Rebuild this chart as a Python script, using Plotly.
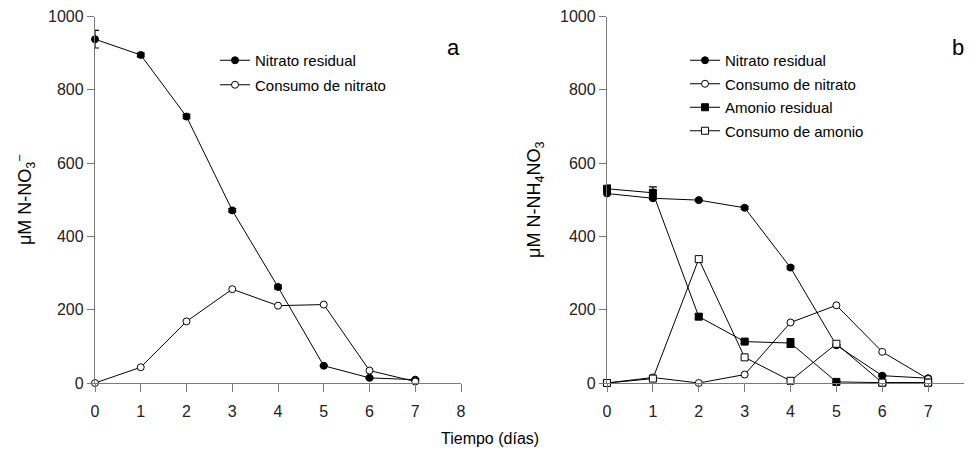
import plotly.graph_objects as go

dias = [0, 1, 2, 3, 4, 5, 6, 7]

# Panel a
a_nitrato_residual = [938, 895, 727, 471, 262, 47, 14, 9]
a_nitrato_residual_err = [24, 5, 6, 5, 5, 2, 2, 2]
a_consumo_nitrato = [0, 43, 168, 256, 211, 214, 34, 4]

# Panel b
b_nitrato_residual = [517, 504, 499, 478, 315, 103, 20, 13]
b_nitrato_residual_err = [3, 3, 3, 4, 4, 2, 2, 2]
b_consumo_nitrato = [0, 15, 0, 23, 165, 212, 85, 11]
b_amonio_residual = [530, 519, 181, 113, 109, 3, 1, 1]
b_amonio_residual_err = [10, 16, 6, 5, 12, 1, 1, 1]
b_consumo_amonio = [0, 12, 338, 70, 6, 107, 1, 1]

xticks = [0, 1, 2, 3, 4, 5, 6, 7, 8]
yticks = [0, 200, 400, 600, 800, 1000]

FONT = "Liberation Sans, Arial, sans-serif"
AX = "#7a7a7a"
W, H = 972, 451
OFF = 8  # page body margin

fig = go.Figure()

def add(x, y, name, symbol, xa, ya, legend, group, err=None, filled=True):
    fig.add_trace(go.Scatter(
        x=x, y=y, name=name, mode="lines+markers",
        xaxis=xa, yaxis=ya, legend=legend, legendgroup=group, cliponaxis=False,
        line=dict(color="black", width=1),
        marker=dict(symbol=symbol, size=7,
                    color="black" if filled else "white",
                    line=dict(color="black", width=1)),
        error_y=(dict(type="data", array=err, color="black", thickness=1.2, width=4)
                 if err is not None else None),
    ))

add(dias, a_nitrato_residual, "Nitrato residual", "circle", "x", "y", "legend", "a1", a_nitrato_residual_err)
add(dias, a_consumo_nitrato, "Consumo de nitrato", "circle", "x", "y", "legend", "a2", filled=False)

add(dias, b_nitrato_residual, "Nitrato residual", "circle", "x2", "y2", "legend2", "b1", b_nitrato_residual_err)
add(dias, b_consumo_nitrato, "Consumo de nitrato", "circle", "x2", "y2", "legend2", "b2", filled=False)
add(dias, b_amonio_residual, "Amonio residual", "square", "x2", "y2", "legend2", "b3", b_amonio_residual_err)
add(dias, b_consumo_amonio, "Consumo de amonio", "square", "x2", "y2", "legend2", "b4", filled=False)

xcommon = dict(range=[0, 8], tickvals=xticks, showgrid=False, zeroline=False,
               showline=True, linecolor=AX, linewidth=1.3, ticks="outside",
               ticklen=8, tickcolor=AX, tickwidth=1.3, automargin=False,
               ticklabelstandoff=6,
               tickfont=dict(family=FONT, size=16, color="#222"))
ycommon = dict(range=[0, 1000], tickvals=yticks, showgrid=False, zeroline=False,
               showline=True, linecolor=AX, linewidth=1.3, ticks="outside",
               ticklen=7, tickcolor=AX, tickwidth=1.3, automargin=False,
               tickfont=dict(family=FONT, size=16, color="#222"))

def px(v):
    return (v - OFF) / W

def py(v):
    return 1 - (v - OFF) / H

ydom = [py(383), py(16.5)]

fig.update_layout(
    width=W, height=H,
    margin=dict(l=0, r=0, t=0, b=0),
    paper_bgcolor="white", plot_bgcolor="white",
    showlegend=True,
    xaxis=dict(domain=[px(95), px(461)], anchor="y", **xcommon),
    yaxis=dict(domain=ydom, anchor="x",
               title=dict(text="μM N-NO<sub>3</sub><sup>−</sup>", standoff=11,
                          font=dict(family=FONT, size=18, color="black")),
               **ycommon),
    xaxis2=dict(domain=[px(607), px(974)], anchor="y2", **xcommon),
    yaxis2=dict(domain=ydom, anchor="x2",
                title=dict(text="μM N-NH<sub>4</sub>NO<sub>3</sub>", standoff=14,
                           font=dict(family=FONT, size=18, color="black")),
                **ycommon),
    legend=dict(x=px(215), y=py(44), xanchor="left", yanchor="top",
                bgcolor="rgba(0,0,0,0)", font=dict(family=FONT, size=15, color="black"),
                itemwidth=30, tracegroupgap=2),
    legend2=dict(x=px(685), y=py(44), xanchor="left", yanchor="top",
                 bgcolor="rgba(0,0,0,0)", font=dict(family=FONT, size=15, color="black"),
                 itemwidth=30, tracegroupgap=1),
    annotations=[
        dict(text="a", x=px(453), y=py(33), xref="paper", yref="paper",
             showarrow=False, font=dict(family=FONT, size=22, color="black")),
        dict(text="b", x=px(966), y=py(33), xref="paper", yref="paper",
             showarrow=False, font=dict(family=FONT, size=22, color="black")),
        dict(text="Tiempo (días)", x=px(490), y=py(449), xref="paper", yref="paper",
             showarrow=False, font=dict(family=FONT, size=16, color="black")),
    ],
)

fig.write_html("out.html")
